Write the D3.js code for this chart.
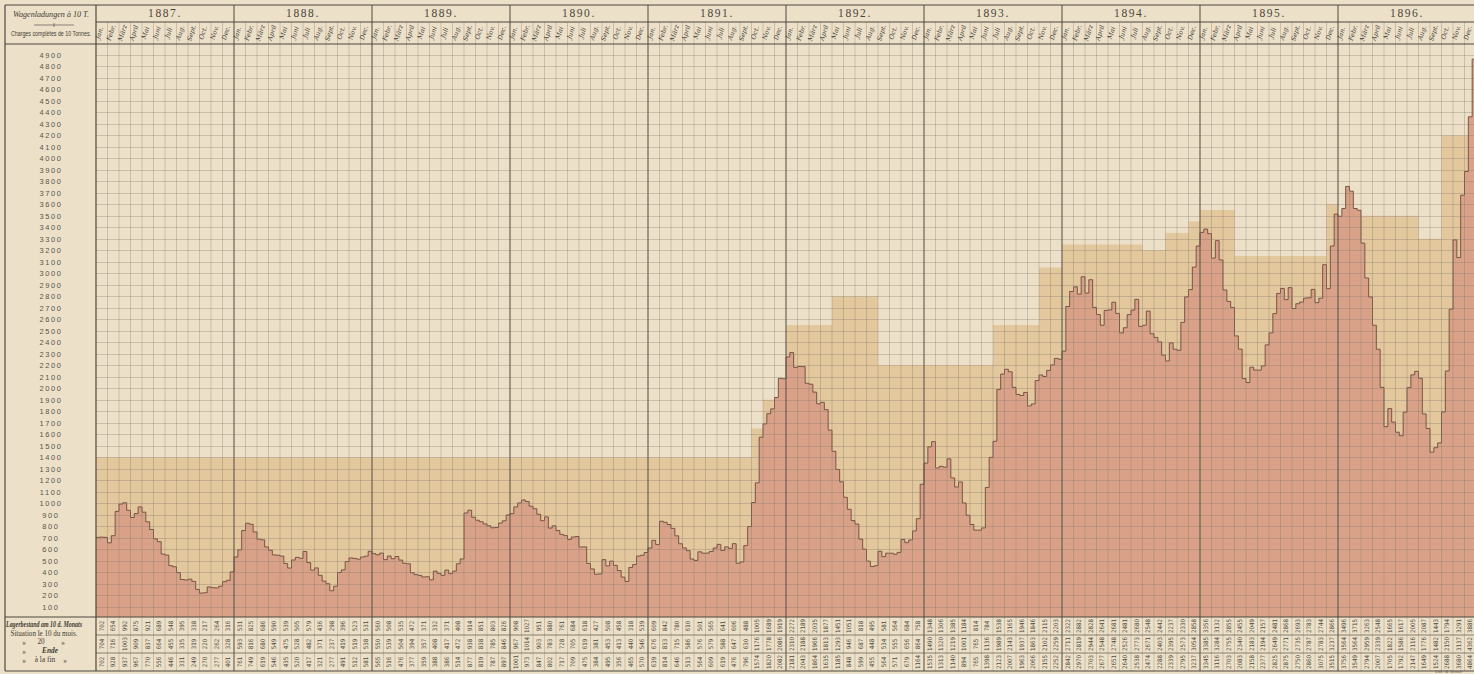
<!DOCTYPE html>
<html>
<head>
<meta charset="utf-8">
<script src="https://cdn.jsdelivr.net/npm/d3@7"></script>
<style>
body { margin: 0; background: #ece1c8; }
svg { display: block; }
</style>
</head>
<body>
<div id="chart"></div>
<script>
// Jahre / années
var years = [1887, 1888, 1889, 1890, 1891, 1892, 1893, 1894, 1895, 1896];
var monthNames = ["Jan.", "Febr.", "März", "April", "Mai", "Juni", "Juli", "Aug.", "Sept.", "Oct.", "Nov.", "Dec."];
var yTicks = [100, 200, 300, 400, 500, 600, 700, 800, 900, 1000, 1100, 1200, 1300, 1400, 1500, 1600, 1700, 1800, 1900, 2000,
    2100, 2200, 2300, 2400, 2500, 2600, 2700, 2800, 2900, 3000, 3100, 3200, 3300, 3400, 3500, 3600, 3700, 3800, 3900, 4000,
    4100, 4200, 4300, 4400, 4500, 4600, 4700, 4800, 4900];

// Lagerbestand (Wagenladungen), per month: 10., 20., Ende
var stock1887 = [702,704,702, 654,716,928, 992,1003,937, 875,909,967, 921,837,770, 689,664,556, 548,455,446, 395,335,331, 338,319,249, 217,220,270, 264,262,277, 316,328,401];
var stock1888 = [531,593,761, 825,816,749, 686,680,619, 590,549,546, 539,475,435, 505,528,520, 579,482,417, 436,371,321, 298,237,277, 396,419,491, 523,519,512, 531,538,581];
var stock1889 = [560,550,565, 508,539,516, 535,504,476, 472,394,377, 371,357,359, 332,408,388, 371,417,386, 408,472,514, 914,938,877, 851,838,819, 803,785,787, 826,846,897];
var stock1890 = [908,967,1001, 1027,1014,973, 951,903,847, 880,783,802, 761,728,717, 684,705,709, 618,619,475, 427,381,384, 508,453,495, 458,413,356, 318,440,465, 539,546,570];
var stock1891 = [609,676,639, 842,833,814, 780,715,646, 610,586,513, 501,576,564, 565,579,609, 641,588,619, 606,647,476, 488,630,796, 1005,1176,1574, 1689,1778,1820, 1919,2086,2082];
var stock1892 = [2272,2310,2181, 2189,2188,2043, 2035,1966,1864, 1877,1813,1635, 1451,1293,1185, 1051,946,848, 818,687,599, 495,448,455, 581,534,564, 564,555,571, 684,656,679, 758,864,1164];
var stock1893 = [1348,1490,1535, 1306,1320,1313, 1385,1219,1140, 1184,1001,894, 814,765,765, 784,1136,1398, 1538,1989,2123, 2165,2143,2007, 1946,1937,1963, 1846,1863,2066, 2115,2102,2155, 2203,2259,2252];
var stock1894 = [2322,2711,2842, 2882,2819,2970, 2828,2944,2703, 2641,2548,2677, 2681,2748,2651, 2481,2526,2640, 2680,2773,2538, 2548,2671,2474, 2442,2403,2288, 2237,2395,2339, 2330,2573,2795, 2858,3054,3237];
var stock1895 = [3356,3385,3345, 3132,3284,3116, 2855,2755,2703, 2455,2340,2083, 2049,2183,2158, 2157,2194,2377, 2481,2649,2825, 2868,2771,2875, 2693,2735,2750, 2783,2787,2860, 2744,2783,3075, 2866,3237,3515];
var stock1896 = [3496,3564,3756, 3715,3564,3549, 3263,2959,2794, 2548,2339,2007, 1665,1822,1705, 1617,1586,1792, 2005,2116,2147, 2087,1776,1649, 1443,1482,1524, 1794,2150,2688, 3291,3137,3680, 3886,4362,4864];

// light band behind the stock: first month (0 = Jan 1887) and level
var bandStart = [0, 57, 58, 60, 64, 68, 78, 82, 84, 91, 93, 95, 96, 99, 107, 108, 115, 117];
var bandLevel = [1400, 1650, 1900, 2550, 2800, 2200, 2550, 3050, 3250, 3200, 3350, 3450, 3550, 3150, 3600, 3500, 3300, 4200];

function StockChart(parent, width, height){
    this.parent = parent;
    this.width = width;
    this.height = height;
    this.svg = null;

    // frame
    this.left = 5;
    this.plotLeft = 96;
    this.plotRight = 1476;
    this.top = 5;
    this.yearBottom = 22;
    this.headBottom = 44;
    this.tableTop = 617;
    this.tableRows = [617, 635, 653, 671];
    this.ink = "#3f3a33";

    this.stock = [stock1887, stock1888, stock1889, stock1890, stock1891, stock1892, stock1893, stock1894, stock1895, stock1896];
    this.values = [].concat.apply([], this.stock);
    this.nMonths = years.length * 12;

    this.x = d3.scaleLinear().domain([0, this.values.length]).range([this.plotLeft, this.plotRight]);
    this.xm = d3.scaleLinear().domain([0, this.nMonths]).range([this.plotLeft, this.plotRight]);
    this.y = d3.scaleLinear().domain([0, 5000]).range([618, 43.5]);

    this.render = function(){
        this.svg = d3.select(this.parent).append("svg")
            .attr("width", this.width)
            .attr("height", this.height);

        this.svg.append("rect")
            .attr("width", this.width).attr("height", this.height)
            .attr("fill", "#ece1c8");

        var defs = this.svg.append("defs");
        defs.append("clipPath").attr("id", "plotClip")
            .append("rect")
            .attr("x", this.plotLeft).attr("y", this.headBottom)
            .attr("width", this.plotRight - this.plotLeft)
            .attr("height", this.tableTop - this.headBottom);

        this.drawAreas();
        this.drawGrid();
        this.drawHeader();
        this.drawYAxis();
        this.drawTable();
        this.drawFrame();
    }

    this.drawAreas = function(){
        var self = this;
        var g = this.svg.append("g").attr("clip-path", "url(#plotClip)");

        // band as monthly steps
        var band = [];
        for (var k = 0; k < bandStart.length; k++) {
            band.push({ m: bandStart[k], v: bandLevel[k] });
        }
        band.push({ m: this.nMonths, v: bandLevel[bandLevel.length - 1] });

        var bandArea = d3.area()
            .curve(d3.curveStepAfter)
            .x(function(d){ return self.xm(d.m); })
            .y0(this.y(0))
            .y1(function(d){ return self.y(d.v); });

        g.append("path")
            .datum(band)
            .attr("d", bandArea)
            .attr("fill", "#e4c89d");

        // stock values
        var pts = this.values.map(function(v, i){ return { i: i, v: v }; });
        pts.push({ i: this.values.length, v: this.values[this.values.length - 1] });

        var stockArea = d3.area()
            .curve(d3.curveStepAfter)
            .x(function(d){ return self.x(d.i); })
            .y0(this.y(0))
            .y1(function(d){ return self.y(d.v); });

        var stockLine = d3.line()
            .curve(d3.curveStepAfter)
            .x(function(d){ return self.x(d.i); })
            .y(function(d){ return self.y(d.v); });

        g.append("path")
            .datum(pts)
            .attr("d", stockArea)
            .attr("fill", "#d9a288");

        g.append("path")
            .datum(pts)
            .attr("d", stockLine)
            .attr("fill", "none")
            .attr("stroke", "#6e4a3c")
            .attr("stroke-width", 0.9);
    }

    this.drawGrid = function(){
        var self = this;
        var g = this.svg.append("g").attr("class", "grid");

        g.selectAll("line.h")
            .data(yTicks)
            .enter().append("line")
            .attr("x1", this.plotLeft).attr("x2", this.plotRight)
            .attr("y1", function(d){ return Math.round(self.y(d)) + 0.5; })
            .attr("y2", function(d){ return Math.round(self.y(d)) + 0.5; })
            .attr("stroke", "#7f7668")
            .attr("stroke-opacity", 0.4)
            .attr("stroke-width", 0.8);

        // month lines through header, plot and table
        g.selectAll("line.v")
            .data(d3.range(1, this.nMonths))
            .enter().append("line")
            .attr("x1", function(d){ return self.xm(d); })
            .attr("x2", function(d){ return self.xm(d); })
            .attr("y1", this.yearBottom)
            .attr("y2", this.tableRows[3])
            .attr("stroke", "#7f7668")
            .attr("stroke-opacity", function(d){ return d % 12 == 0 ? 0 : 0.42; })
            .attr("stroke-width", 0.8);

        // year lines
        g.selectAll("line.year")
            .data(d3.range(1, years.length))
            .enter().append("line")
            .attr("x1", function(d){ return self.xm(d * 12); })
            .attr("x2", function(d){ return self.xm(d * 12); })
            .attr("y1", this.top)
            .attr("y2", this.tableRows[3])
            .attr("stroke", "#5e574d")
            .attr("stroke-width", 1.1);
    }

    this.drawHeader = function(){
        var self = this;
        var g = this.svg.append("g").attr("class", "header");

        g.selectAll("text.year")
            .data(years)
            .enter().append("text")
            .attr("x", function(d, i){ return self.xm(i * 12 + 6); })
            .attr("y", 17)
            .attr("text-anchor", "middle")
            .attr("font-family", "Liberation Serif, serif")
            .attr("font-size", 11.5)
            .attr("letter-spacing", 1.6)
            .attr("fill", "#4a443c")
            .text(function(d){ return d + "."; });

        // rotated month names, sitting in the left part of each cell
        var cells = [];
        years.forEach(function(yr, yi){
            monthNames.forEach(function(m, mi){ cells.push({ idx: yi * 12 + mi, name: m }); });
        });
        g.selectAll("text.month")
            .data(cells)
            .enter().append("text")
            .attr("transform", function(d){
                return "translate(" + (self.xm(d.idx) + 5.5) + "," + 33.5 + ") rotate(-72)";
            })
            .attr("text-anchor", "middle")
            .attr("font-family", "DejaVu Serif, serif")
            .attr("font-style", "italic")
            .attr("font-size", 6.4)
            .attr("fill", "#46403a")
            .text(function(d){ return d.name; });

        // left header
        g.append("text")
            .attr("x", 51).attr("y", 17)
            .attr("text-anchor", "middle")
            .attr("font-family", "Liberation Serif, serif")
            .attr("font-style", "italic")
            .attr("font-size", 8.5)
            .attr("textLength", 76)
            .attr("lengthAdjust", "spacingAndGlyphs")
            .attr("fill", this.ink)
            .text("Wagenladungen à 10 T.");
        g.append("line")
            .attr("x1", 34).attr("x2", 74).attr("y1", 25).attr("y2", 25)
            .attr("stroke", "#5e574d").attr("stroke-width", 0.7);
        g.append("line")
            .attr("x1", 54).attr("x2", 54).attr("y1", 23).attr("y2", 27)
            .attr("stroke", "#5e574d").attr("stroke-width", 0.7);
        g.append("text")
            .attr("x", 51).attr("y", 36)
            .attr("text-anchor", "middle")
            .attr("font-family", "Liberation Sans Narrow, Liberation Sans, sans-serif")
            .attr("font-size", 6.5)
            .attr("textLength", 80)
            .attr("lengthAdjust", "spacingAndGlyphs")
            .attr("fill", this.ink)
            .text("Charges complètes de 10 Tonnes.");
    }

    this.drawYAxis = function(){
        var self = this;
        this.svg.append("g")
            .selectAll("text")
            .data(yTicks)
            .enter().append("text")
            .attr("x", 51)
            .attr("y", function(d){ return self.y(d) + 3; })
            .attr("text-anchor", "middle")
            .attr("font-family", "Liberation Sans, sans-serif")
            .attr("font-size", 7.5)
            .attr("letter-spacing", 1.6)
            .attr("fill", "#5a544b")
            .text(function(d){ return d; });
    }

    this.addLabel = function(g, x, y, txt, italic, size){
        return g.append("text")
            .attr("x", x).attr("y", y)
            .attr("text-anchor", "middle")
            .attr("font-family", "Liberation Serif, serif")
            .attr("font-style", italic ? "italic" : "normal")
            .attr("font-weight", italic ? "bold" : "normal")
            .attr("font-size", size || 7.2)
            .attr("fill", this.ink)
            .text(txt);
    }

    this.drawTable = function(){
        var self = this;
        var g = this.svg.append("g").attr("class", "table");
        var rows = this.tableRows;

        g.selectAll("line.row")
            .data(rows.slice(1, 3))
            .enter().append("line")
            .attr("x1", this.plotLeft).attr("x2", this.plotRight)
            .attr("y1", function(d){ return d; }).attr("y2", function(d){ return d; })
            .attr("stroke", "#6b6458").attr("stroke-width", 0.8);

        var cells = this.values.map(function(v, i){
            return { m: Math.floor(i / 3), r: i % 3, v: v };
        });
        g.selectAll("text.val")
            .data(cells)
            .enter().append("text")
            .attr("transform", function(d){
                var cx = self.xm(d.m + 0.5) + 2;
                var cy = (rows[d.r] + rows[d.r + 1]) / 2;
                return "translate(" + cx + "," + cy + ") rotate(-90)";
            })
            .attr("text-anchor", "middle")
            .attr("font-family", "Liberation Sans Narrow, DejaVu Sans Condensed, sans-serif")
            .attr("font-size", 6.2)
            .attr("fill", "#4f4a42")
            .text(function(d){ return d.v; });

        // left labels
        this.addLabel(g, 44, 627, "Lagerbestand am 10 d. Monats", true, 7.2).attr("textLength", 76).attr("lengthAdjust", "spacingAndGlyphs");
        this.addLabel(g, 44, 636, "Situation le 10 du mois.", false, 7.4).attr("textLength", 67).attr("lengthAdjust", "spacingAndGlyphs");
        this.addLabel(g, 24, 645, "»", false);
        this.addLabel(g, 41, 644, "20", false);
        this.addLabel(g, 63, 645, "»", false);
        this.addLabel(g, 24, 654, "»", false);
        this.addLabel(g, 50, 653, "Ende", true, 7.4);
        this.addLabel(g, 24, 663, "»", false);
        this.addLabel(g, 45, 662, "à la fin", false, 7.4);
        this.addLabel(g, 65, 663, "»", false);

        // lithographer note below the table
        g.append("text")
            .attr("x", 1462).attr("y", 673)
            .attr("text-anchor", "end")
            .attr("font-family", "Liberation Serif, serif")
            .attr("font-style", "italic")
            .attr("font-size", 4.5)
            .attr("fill", "#6a6358")
            .text("Lith. & Anstalt");
    }

    this.drawFrame = function(){
        var g = this.svg.append("g").attr("class", "frame");
        var stroke = "#4d473f";
        var hl = [
            [this.left, this.top], [this.plotLeft, this.yearBottom],
            [this.left, this.headBottom], [this.left, this.tableTop], [this.left, this.tableRows[3]]
        ];
        hl.forEach(function(h){
            g.append("line")
                .attr("x1", h[0]).attr("x2", 1476)
                .attr("y1", h[1]).attr("y2", h[1])
                .attr("stroke", stroke).attr("stroke-width", 1.1);
        });
        g.append("line")
            .attr("x1", this.left).attr("x2", this.left)
            .attr("y1", this.top).attr("y2", this.tableRows[3])
            .attr("stroke", stroke).attr("stroke-width", 1.2);
        g.append("line")
            .attr("x1", this.plotLeft).attr("x2", this.plotLeft)
            .attr("y1", this.top).attr("y2", this.tableRows[3])
            .attr("stroke", stroke).attr("stroke-width", 1.2);
    }
}

var chart = new StockChart(document.getElementById("chart"), 1474, 674);
chart.render();
</script>
</body>
</html>
